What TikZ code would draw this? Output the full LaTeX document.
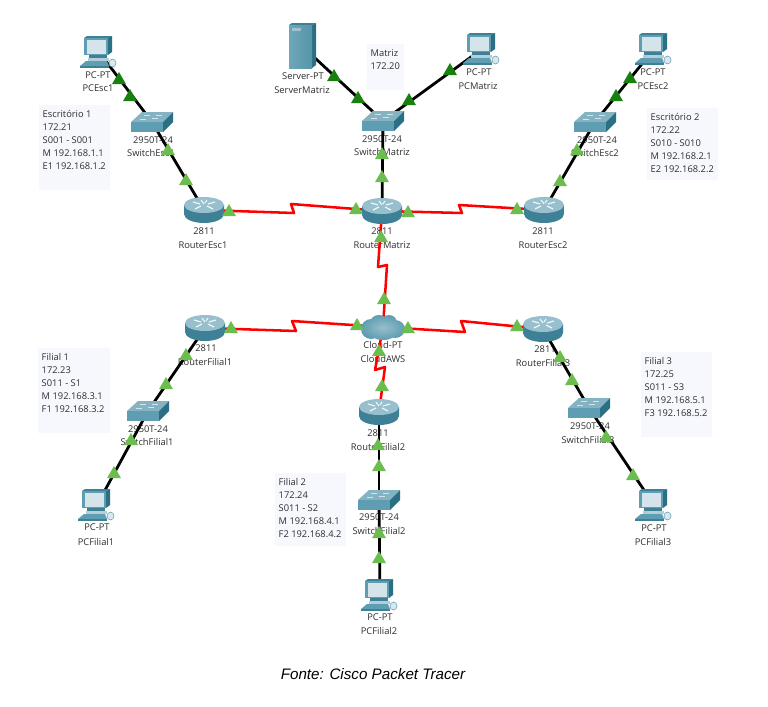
\documentclass[tikz,border=0pt]{standalone}
\usepackage{fontspec}
\setmainfont{Open Sans}
\newfontfamily\capfont{Liberation Sans}
\usetikzlibrary{shapes.geometric}
\definecolor{ltgreen}{HTML}{6BBD4E}
\definecolor{dkgreen}{HTML}{17800F}
\definecolor{boxbg}{HTML}{F7F8FE}
\definecolor{txt}{HTML}{2E2E2E}
\definecolor{teal1}{HTML}{5F9DB2}
\definecolor{teal2}{HTML}{3E8096}
\definecolor{teal3}{HTML}{2B6F85}
\definecolor{teal4}{HTML}{85B3C2}
\definecolor{scr}{HTML}{D5E3EA}
\tikzset{
  dev/.style={inner sep=0pt,minimum width=30pt,minimum height=20pt},
  lab/.style={inner sep=0pt,text=txt,font=\fontsize{7}{8}\selectfont},
  infobox/.style={fill=boxbg,draw=none,inner sep=0pt,anchor=north west},
  infotext/.style={inner sep=0pt,anchor=north west,align=left,text=txt,font=\fontsize{7}{9.75}\selectfont},
  eth/.style={draw=black,line width=2.1pt},
  ser/.style={draw=red,line width=1.9pt,line join=round},
  ltri/.style={regular polygon,regular polygon sides=3,fill=ltgreen,draw=none,inner sep=0pt,minimum size=12pt},
  dtri/.style={regular polygon,regular polygon sides=3,fill=dkgreen,draw=none,inner sep=0pt,minimum size=12pt},
  pcicon/.pic={
    \fill[teal2] (-15,-14)--(-12,-16)--(13,-16)--(9,-14)--cycle;
    \fill[teal3] (9,-14)--(13,-16)--(13,0)--(9,3)--cycle;
    \fill[teal1] (-15,-14) rectangle (9,3);
    \fill[scr] (-12.5,-12.5) rectangle (7,1.5);
    \fill[teal2] (-10.5,3) rectangle (8,6);
    \fill[scr!70!teal1] (-11,6) rectangle (10,8.5);
    \fill[teal1] (-19,14)--(-13,9)--(8,9)--(10,14)--cycle;
    \fill[teal2] (-19,14) rectangle (10,15.5);
    \fill[white!70!teal4,draw=teal1,line width=.4pt] (13.5,11) ellipse [x radius=3.5,y radius=4];
  },
  swicon/.pic={
    \fill[teal4] (-21,0)--(-10,-10)--(21,-10)--(11,0)--cycle;
    \fill[teal3] (11,0)--(21,-10)--(21,0)--(11,10)--cycle;
    \fill[teal1] (-21,0) rectangle (11,10);
    \draw[scr,line width=.6pt] (-12,-3)--(-6,-3) (-8,-7)--(-2,-7) (0,-4)--(6,-4) (4,-7)--(10,-7);
  },
  rticon/.pic={
    \shade[left color=teal2,middle color=white!85!teal1,right color=teal2]
      (-20,-5)--(-20,4) .. controls (-20,9) and (-11,13) .. (0,13) .. controls (11,13) and (20,9) .. (20,4)--(20,-5)--cycle;
    \fill[teal1!65!white] (0,-5) ellipse [x radius=20,y radius=8];
    \draw[white!90!teal1,line width=.9pt] (-11,-8)--(-4,-6) (11,-8)--(4,-6) (-9,-1)--(-3,-4) (9,-1)--(3,-4) (-3,-10)--(0,-6) (3,-10)--(1,-7);
  },
  cloudicon/.pic={
    \shade[inner color=teal4!85!white,outer color=teal1]
      (-12,2) ellipse [x radius=10,y radius=10]
      (12,2) ellipse [x radius=10,y radius=9]
      (-4,-4) ellipse [x radius=9,y radius=8]
      (6,-4) ellipse [x radius=8,y radius=8]
      (0,5) ellipse [x radius=14,y radius=8];
  },
  srvicon/.pic={
    \fill[teal2] (-13,-21)--(-10,-23)--(14,-23)--(10,-21)--cycle;
    \fill[teal3] (10,-21)--(14,-23)--(14,19)--(10,22)--cycle;
    \shade[left color=teal1!90!white,right color=teal1!70!teal2] (-13,-21) rectangle (10,22);
    \fill[teal4!80!white] (-10,-18) rectangle (-1,-15);
  }
}
\newcommand{\lbl}[4]{\node[lab] (#1) at (#2,#3) {#4};}
\newcommand{\ltr}[3]{\node[ltri] (#1) at (#2,#3) {};}
\newcommand{\dtr}[3]{\node[dtri] (#1) at (#2,#3) {};}
\newcommand{\info}[6]{%
  \node[infobox,minimum width=#4*0.75pt,minimum height=#5*0.75pt] (#1) at (#2,#3) {};
  \node[infotext] (#1t) at ([xshift=2.6pt,yshift=-4pt]#1.north west) {#6};}
\begin{document}
\begin{tikzpicture}[x=0.75pt,y=-0.75pt]
\fill[white] (0,0) rectangle (768,707);
\useasboundingbox (0,0) rectangle (768,707);

% info boxes
\info{iEsc1}{39}{105}{71}{85}{Escritório 1\\172.21\\S001 - S001\\M 192.168.1.1\\E1 192.168.1.2}
\info{iMat}{367}{44}{37}{46}{Matriz\\172.20}
\info{iEsc2}{647}{108}{71}{72}{Escritório 2\\172.22\\S010 - S010\\M 192.168.2.1\\E2 192.168.2.2}
\info{iFil1}{38}{348}{72}{85}{Filial 1\\172.23\\S011 - S1\\M 192.168.3.1\\F1 192.168.3.2}
\info{iFil2}{275}{473}{71}{73}{Filial 2\\172.24\\S011 - S2\\M 192.168.4.1\\F2 192.168.4.2}
\info{iFil3}{641}{352}{71}{85}{Filial 3\\172.25\\S011 - S3\\M 192.168.5.1\\F3 192.168.5.2}

% device anchors
\node[dev] (PCEsc1) at (99,52) {};
\node[dev] (SwEsc1) at (152,122) {};
\node[dev] (RtEsc1) at (204,210) {};
\node[dev] (Server) at (302,46) {};
\node[dev] (PCMat) at (482,49) {};
\node[dev] (SwMat) at (383,121) {};
\node[dev] (RtMat) at (382,211) {};
\node[dev] (PCEsc2) at (654,49) {};
\node[dev] (SwEsc2) at (595,122) {};
\node[dev] (RtEsc2) at (544,210) {};
\node[dev] (Cloud) at (383,327) {};
\node[dev] (RtFil1) at (205,328) {};
\node[dev] (SwFil1) at (148,411) {};
\node[dev] (PCFil1) at (97,505) {};
\node[dev] (RtFil2) at (379,412) {};
\node[dev] (SwFil2) at (379,500) {};
\node[dev] (PCFil2) at (380,595) {};
\node[dev] (RtFil3) at (543,329) {};
\node[dev] (SwFil3) at (589,408) {};
\node[dev] (PCFil3) at (654,505) {};

% labels
\lbl{l1}{98}{75}{PC-PT}\lbl{l2}{98}{88}{PCEsc1}
\lbl{l3}{153}{140}{2950T-24}\lbl{l4}{151}{153}{SwitchEsc1}
\lbl{l5}{204}{231}{2811}\lbl{l6}{203}{245}{RouterEsc1}
\lbl{l7}{303}{76}{Server-PT}\lbl{l8}{302}{90}{ServerMatriz}
\lbl{l9}{479}{72}{PC-PT}\lbl{l10}{478}{86}{PCMatriz}
\lbl{l11}{382}{139}{2950T-24}\lbl{l12}{382}{152}{SwitchMatriz}
\lbl{l13}{382}{231}{2811}\lbl{l14}{382}{245}{RouterMatriz}
\lbl{l15}{653}{72}{PC-PT}\lbl{l16}{653}{86}{PCEsc2}
\lbl{l17}{597}{140}{2950T-24}\lbl{l18}{595}{153}{SwitchEsc2}
\lbl{l19}{543}{231}{2811}\lbl{l20}{543}{245}{RouterEsc2}
\lbl{l21}{383}{345}{Cloud-PT}\lbl{l22}{383}{359}{CloudAWS}
\lbl{l23}{206}{348}{2811}\lbl{l24}{205}{362}{RouterFilial1}
\lbl{l25}{148}{429}{2950T-24}\lbl{l26}{147}{442}{SwitchFilial1}
\lbl{l27}{97}{527}{PC-PT}\lbl{l28}{96}{542}{PCFilial1}
\lbl{l29}{378}{433}{2811}\lbl{l30}{378}{447}{RouterFilial2}
\lbl{l31}{379}{517}{2950T-24}\lbl{l32}{379}{531}{SwitchFilial2}
\lbl{l33}{380}{617}{PC-PT}\lbl{l34}{379}{631}{PCFilial2}
\lbl{l35}{545}{349}{2811}\lbl{l36}{543}{363}{RouterFilial3}
\lbl{l37}{590}{426}{2950T-24}\lbl{l38}{588}{440}{SwitchFilial3}
\lbl{l39}{654}{528}{PC-PT}\lbl{l40}{653}{542}{PCFilial3}

% waypoints of the serial links
\coordinate (a1) at (294,213); \coordinate (a2) at (291,204);
\coordinate (b1) at (462,213); \coordinate (b2) at (459,205);
\coordinate (c1) at (378,267); \coordinate (c2) at (387,265);
\coordinate (d1) at (296,331); \coordinate (d2) at (292,321);
\coordinate (e1) at (465,332); \coordinate (e2) at (461,321);
\coordinate (f1) at (375,370); \coordinate (f2) at (385,367);

% links
\draw[eth] (PCEsc1.center)--(SwEsc1.center);
\draw[eth] (SwEsc1.center)--(RtEsc1.center);
\draw[eth] (Server.center)--(SwMat.center);
\draw[eth] (PCMat.center)--(SwMat.center);
\draw[eth] (SwMat.center)--(RtMat.center);
\draw[eth] (PCEsc2.center)--(SwEsc2.center);
\draw[eth] (SwEsc2.center)--(RtEsc2.center);
\draw[eth] (RtFil1.center)--(SwFil1.center);
\draw[eth] (SwFil1.center)--(PCFil1.center);
\draw[eth] (RtFil2.center)--(SwFil2.center);
\draw[eth] (SwFil2.center)--(PCFil2.center);
\draw[eth] (RtFil3.center)--(SwFil3.center);
\draw[eth] (SwFil3.center)--(PCFil3.center);
\draw[ser] (RtEsc1.center)--(a1)--(a2)--(RtMat.center);
\draw[ser] (RtMat.center)--(b1)--(b2)--(RtEsc2.center);
\draw[ser] (RtMat.center)--(c1)--(c2)--(Cloud.center);
\draw[ser] (RtFil1.center)--(d1)--(d2)--(Cloud.center);
\draw[ser] (Cloud.center)--(e1)--(e2)--(RtFil3.center);
\draw[ser] (Cloud.center)--(f1)--(f2)--(RtFil2.center);

% icons
\pic at (PCEsc1) {pcicon};
\pic at (PCMat) {pcicon};
\pic at (PCEsc2) {pcicon};
\pic at (PCFil1) {pcicon};
\pic at (PCFil2) {pcicon};
\pic at (PCFil3) {pcicon};
\pic at (SwEsc1) {swicon};
\pic at (SwMat) {swicon};
\pic at (SwEsc2) {swicon};
\pic at (SwFil1) {swicon};
\pic at (SwFil2) {swicon};
\pic at (SwFil3) {swicon};
\pic at (RtEsc1) {rticon};
\pic at (RtMat) {rticon};
\pic at (RtEsc2) {rticon};
\pic at (RtFil1) {rticon};
\pic at (RtFil2) {rticon};
\pic at (RtFil3) {rticon};
\pic at (Cloud) {cloudicon};
\pic at (Server) {srvicon};

% link state triangles
\dtr{t1}{119}{80}\dtr{t2}{130}{97}
\ltr{t3}{168}{151}\ltr{t4}{186}{181}\ltr{t5}{229}{212}
\dtr{t6}{334}{77}\dtr{t7}{358}{99}\dtr{t8}{409}{101}\dtr{t9}{450}{71}
\ltr{t10}{382}{155}\ltr{t11}{382}{178}
\ltr{t12}{356}{210}\ltr{t13}{408}{213}\ltr{t14}{381}{238}
\dtr{t15}{630}{79}\dtr{t16}{616}{97}
\ltr{t17}{577}{151}\ltr{t18}{560}{182}\ltr{t19}{517}{210}
\ltr{t20}{384}{300}\ltr{t21}{357}{326}\ltr{t22}{408}{329}\ltr{t23}{379}{352}
\ltr{t24}{231}{329}\ltr{t25}{186}{356}\ltr{t26}{166}{385}\ltr{t27}{131}{441}\ltr{t28}{114}{474}
\ltr{t29}{382}{387}\ltr{t30}{378}{446}\ltr{t31}{379}{467}\ltr{t32}{379}{534}\ltr{t33}{379}{559}
\ltr{t34}{517}{327}\ltr{t35}{560}{358}\ltr{t36}{572}{381}\ltr{t37}{606}{438}\ltr{t38}{633}{476}

% caption
\node[inner sep=0pt,text=black] (caption) at (373,674) {\fontsize{11.4}{13}\capfont\itshape Fonte: Cisco Packet Tracer};
\end{tikzpicture}
\end{document}
